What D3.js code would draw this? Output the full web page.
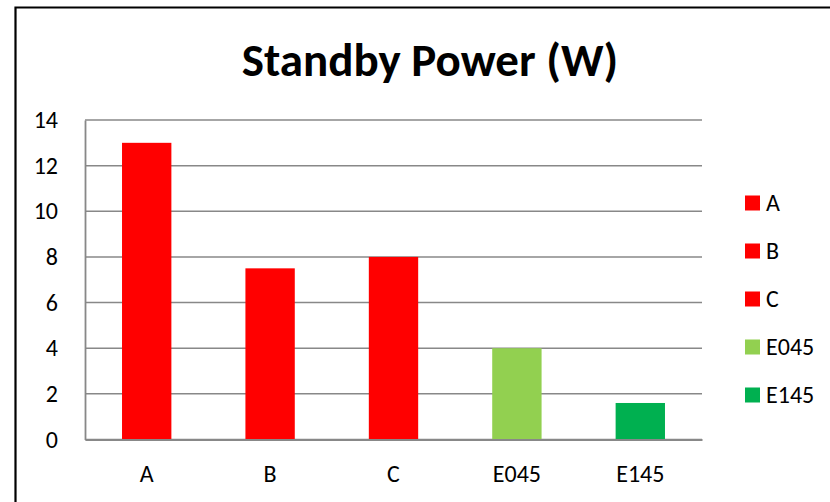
<!DOCTYPE html>
<html>
<head>
<meta charset="utf-8">
<script src="https://cdn.jsdelivr.net/npm/d3@7"></script>
<style>
	body { margin: 0; background: #fff; }
	svg { display: block; font-family: Calibri, Carlito, Lato, sans-serif; }
</style>
</head>
<body>
<div id="chart"></div>
<script>
	// data
	const categories = ['A', 'B', 'C', 'E045', 'E145'];
	const values = [13, 7.5, 8, 4, 1.6];
	const barColors = ['#ff0000', '#ff0000', '#ff0000', '#92d050', '#00b050'];
	const yTicks = [0, 2, 4, 6, 8, 10, 12, 14];
	const title = 'Standby Power (W)';

	const W = 830, H = 502;
	const plot = { left: 85, right: 702, top: 120, bottom: 439.5 };
	const labelSize = 24;

	const svg = d3.select('#chart').append('svg')
		.attr('width', W)
		.attr('height', H);

	// chart frame (only top and left edges show in the crop)
	svg.append('path')
		.attr('d', 'M15.5,' + H + 'V7.5H' + W)
		.attr('fill', 'none')
		.attr('stroke', '#000')
		.attr('stroke-width', 2.2);

	svg.append('text')
		.attr('x', 430)
		.attr('y', 76)
		.attr('text-anchor', 'middle')
		.attr('font-weight', 'bold')
		.attr('font-size', 47)
		.attr('fill', '#000')
		.text(title);

	const x = d3.scaleBand()
		.domain(categories)
		.range([plot.left, plot.right])
		.padding(0);

	const y = d3.scaleLinear()
		.domain([0, 14])
		.range([plot.bottom, plot.top]);

	// gridlines
	svg.append('g')
		.selectAll('line')
		.data(yTicks)
		.enter().append('line')
		.attr('x1', plot.left)
		.attr('x2', plot.right)
		.attr('y1', d => y(d))
		.attr('y2', d => y(d))
		.attr('stroke', '#888')
		.attr('stroke-width', 1.5);

	// y axis
	const yAxis = d3.axisLeft(y)
		.tickValues(yTicks)
		.tickSize(0)
		.tickPadding(27);
	const gy = svg.append('g')
		.attr('transform', 'translate(' + plot.left + ',0)')
		.call(yAxis);
	gy.attr('font-size', labelSize).attr('font-family', null);
	gy.select('.domain').attr('stroke', '#888').attr('stroke-width', 1.8);
	gy.selectAll('text').attr('fill', '#000');

	// bars, Excel-style gap width 150%
	const barW = x.bandwidth() / 2.5;
	svg.append('g')
		.selectAll('rect')
		.data(values)
		.enter().append('rect')
		.attr('x', (d, i) => x(categories[i]) + (x.bandwidth() - barW) / 2)
		.attr('y', d => y(d))
		.attr('width', barW)
		.attr('height', d => y(0) - y(d))
		.attr('fill', (d, i) => barColors[i]);

	// x axis
	const xAxis = d3.axisBottom(x)
		.tickSize(0)
		.tickPadding(25);
	const gx = svg.append('g')
		.attr('transform', 'translate(0,' + plot.bottom + ')')
		.call(xAxis);
	gx.attr('font-size', labelSize).attr('font-family', null);
	gx.select('.domain').attr('stroke', '#888').attr('stroke-width', 1.8);
	gx.selectAll('text').attr('fill', '#000');

	// legend
	const legend = svg.append('g')
		.selectAll('g')
		.data(categories)
		.enter().append('g')
		.attr('transform', (d, i) => 'translate(745,' + (203 + i * 48) + ')');
	legend.append('rect')
		.attr('x', 0)
		.attr('y', -7.5)
		.attr('width', 15)
		.attr('height', 15)
		.attr('fill', (d, i) => barColors[i]);
	legend.append('text')
		.attr('x', 21)
		.attr('y', 0)
		.attr('dy', '0.35em')
		.attr('font-size', labelSize)
		.attr('fill', '#000')
		.text(d => d);
</script>
</body>
</html>
